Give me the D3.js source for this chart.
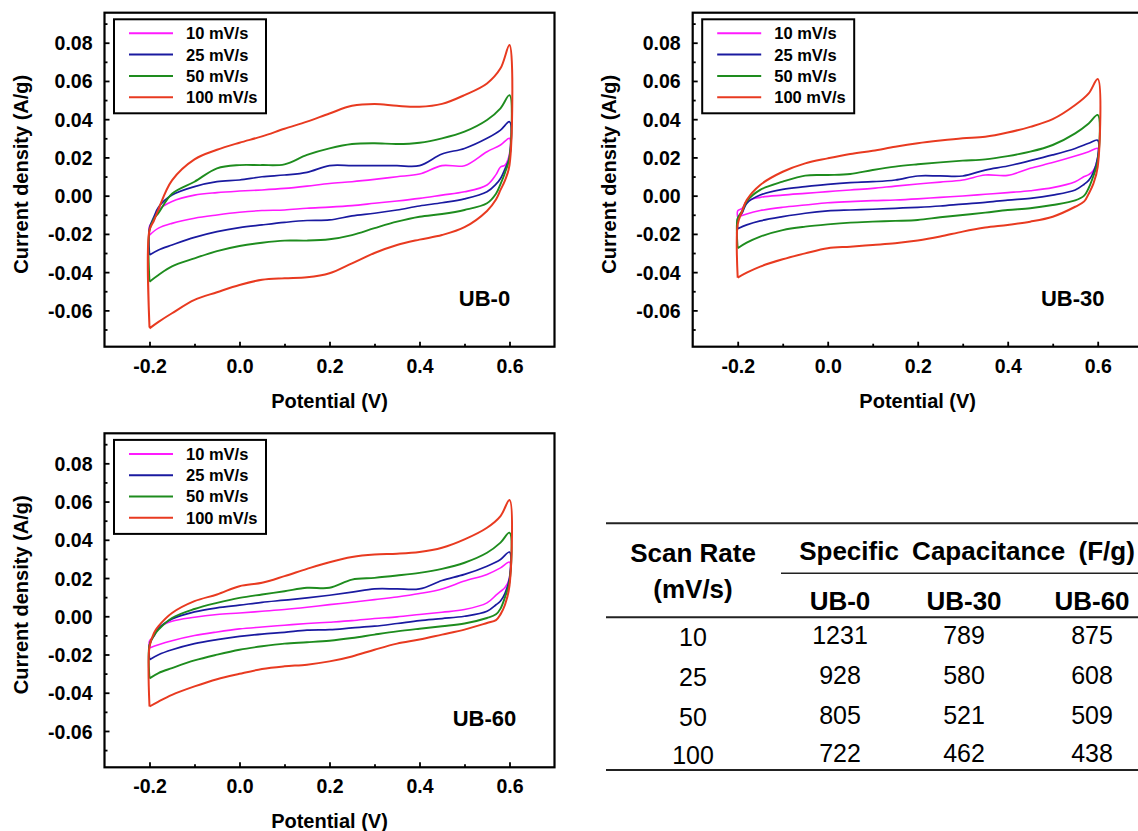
<!DOCTYPE html>
<html>
<head>
<meta charset="utf-8">
<script src="https://cdn.jsdelivr.net/npm/d3@7"></script>
<style>
  body { margin: 0; background: #fff; }
  text { font-family: "Liberation Sans", Arial, sans-serif; }
</style>
</head>
<body>
<div class="chart"></div>
<script>
// CV curves of UB-0 / UB-30 / UB-60 at four scan rates + capacitance table

var scanLabels = ["10 mV/s", "25 mV/s", "50 mV/s", "100 mV/s"];
var colors     = ["#ff1aff", "#1a1aa0", "#1e8c1e", "#e83a20"];
var widths     = [1.6, 1.7, 1.9, 2.0];

var xTicks  = [-0.2, 0.0, 0.2, 0.4, 0.6];
var xMinor  = [-0.1, 0.1, 0.3, 0.5];
var yTicks  = [-0.06, -0.04, -0.02, 0.00, 0.02, 0.04, 0.06, 0.08];
var yMinor  = [-0.07, -0.05, -0.03, -0.01, 0.01, 0.03, 0.05, 0.07, 0.09];

// potential grid (V) for the forward and reverse sweeps
var potFwd = [-0.2, -0.2, -0.19, -0.18, -0.15, -0.1, -0.05, 0.0, 0.05, 0.1, 0.15, 0.2, 0.25, 0.3, 0.35, 0.4, 0.45, 0.5, 0.55, 0.58, 0.6];
var potRev = [0.6, 0.59, 0.58, 0.57, 0.55, 0.5, 0.45, 0.4, 0.35, 0.3, 0.25, 0.2, 0.15, 0.1, 0.05, 0.0, -0.05, -0.1, -0.15, -0.18, -0.2];

// current density (A/g), UB-0
var ub0_10_fwd  = [-0.0206, -0.016, -0.0127, -0.0075, -0.003, 0.0003, 0.0016, 0.0024, 0.003, 0.0038, 0.005, 0.0064, 0.0073, 0.0085, 0.0099, 0.0113, 0.0157, 0.0157, 0.023, 0.0265, 0.030];
var ub0_10_rev  = [0.022, 0.016, 0.015, 0.011, 0.0056, 0.002, 0.0003, -0.0014, -0.0028, -0.004, -0.0052, -0.006, -0.0066, -0.0075, -0.0078, -0.0087, -0.0101, -0.0118, -0.0145, -0.017, -0.0206];
var ub0_25_fwd  = [-0.031, -0.017, -0.011, -0.006, 0.0003, 0.0047, 0.0073, 0.0082, 0.0099, 0.0108, 0.0122, 0.0157, 0.0157, 0.0157, 0.0157, 0.0157, 0.0218, 0.0247, 0.030, 0.0343, 0.0387];
var ub0_25_rev  = [0.02, 0.014, 0.009, 0.006, 0.002, -0.0017, -0.0037, -0.0054, -0.0075, -0.0092, -0.0106, -0.0127, -0.013, -0.014, -0.0153, -0.0167, -0.0188, -0.0218, -0.0258, -0.0284, -0.031];
var ub0_50_fwd  = [-0.045, -0.018, -0.012, -0.009, 0.001, 0.0073, 0.0143, 0.016, 0.016, 0.0164, 0.0213, 0.0247, 0.027, 0.0274, 0.027, 0.0277, 0.030, 0.0335, 0.0396, 0.0457, 0.0526];
var ub0_50_rev  = [0.02, 0.012, 0.006, 0.001, -0.004, -0.0075, -0.0096, -0.011, -0.0136, -0.017, -0.0206, -0.0228, -0.0235, -0.0235, -0.0246, -0.0263, -0.029, -0.0328, -0.037, -0.0415, -0.045];
var ub0_100_fwd = [-0.069, -0.018, -0.013, -0.007, 0.008, 0.019, 0.024, 0.0277, 0.031, 0.035, 0.0387, 0.043, 0.047, 0.048, 0.047, 0.0465, 0.048, 0.0526, 0.0587, 0.0666, 0.0788];
var ub0_100_rev = [0.016, 0.008, 0.003, -0.002, -0.008, -0.0165, -0.0206, -0.023, -0.0258, -0.030, -0.0354, -0.0406, -0.0427, -0.0432, -0.044, -0.0467, -0.0505, -0.0545, -0.0615, -0.066, -0.0694];

// UB-30
var ub30_10_fwd  = [-0.0113, -0.008, -0.0066, -0.003, -0.0009, 0.0003, 0.0012, 0.0021, 0.003, 0.0038, 0.005, 0.0061, 0.0071, 0.0082, 0.0108, 0.0106, 0.0143, 0.0173, 0.0207, 0.023, 0.0247];
var ub30_10_rev  = [0.02, 0.013, 0.011, 0.010, 0.0073, 0.0042, 0.0026, 0.0016, 0.0007, -0.0002, -0.0009, -0.0017, -0.0023, -0.0026, -0.0031, -0.0037, -0.0049, -0.0061, -0.0078, -0.0096, -0.0113];
var ub30_25_fwd  = [-0.0173, -0.012, -0.009, -0.004, 0.0003, 0.0033, 0.0047, 0.0059, 0.0068, 0.0073, 0.0082, 0.0103, 0.0103, 0.0103, 0.0134, 0.0155, 0.0183, 0.0213, 0.0247, 0.0274, 0.029];
var ub30_25_rev  = [0.02, 0.012, 0.008, 0.006, 0.003, 0.0003, -0.0014, -0.0023, -0.0035, -0.0044, -0.0054, -0.0061, -0.0066, -0.0071, -0.0075, -0.008, -0.0092, -0.011, -0.0132, -0.0153, -0.0173];
var ub30_50_fwd  = [-0.0275, -0.012, -0.008, -0.003, 0.003, 0.0073, 0.0105, 0.0108, 0.0113, 0.0134, 0.0152, 0.0164, 0.0174, 0.0183, 0.019, 0.0207, 0.023, 0.0265, 0.0326, 0.0378, 0.0422];
var ub30_50_rev  = [0.018, 0.01, 0.004, 0.0, -0.0025, -0.0049, -0.0066, -0.0075, -0.0089, -0.0101, -0.0113, -0.0127, -0.0132, -0.0136, -0.0141, -0.015, -0.0162, -0.018, -0.0214, -0.0246, -0.0275];
var ub30_100_fwd = [-0.0429, -0.015, -0.008, -0.0023, 0.0056, 0.0125, 0.0169, 0.0195, 0.0218, 0.0235, 0.0256, 0.0274, 0.0288, 0.030, 0.0308, 0.033, 0.036, 0.040, 0.0474, 0.0535, 0.061];
var ub30_100_rev = [0.015, 0.006, 0.001, -0.003, -0.0058, -0.011, -0.0136, -0.0153, -0.0167, -0.0188, -0.0214, -0.0235, -0.0249, -0.0258, -0.0267, -0.0275, -0.0302, -0.0333, -0.0371, -0.0403, -0.0429];

// UB-60
var ub60_10_fwd  = [-0.0166, -0.013, -0.0105, -0.0061, -0.0026, -0.0005, 0.0009, 0.0017, 0.0026, 0.0035, 0.0047, 0.0061, 0.0073, 0.0087, 0.0101, 0.0119, 0.0143, 0.0184, 0.0219, 0.0253, 0.0283];
var ub60_10_rev  = [0.02, 0.015, 0.013, 0.011, 0.007, 0.0035, 0.0021, 0.0009, -0.0003, -0.0012, -0.0023, -0.0031, -0.0038, -0.0047, -0.0056, -0.0066, -0.0082, -0.0101, -0.0128, -0.0149, -0.0166];
var ub60_25_fwd  = [-0.0227, -0.015, -0.010, -0.0063, -0.0014, 0.0023, 0.0044, 0.0058, 0.0073, 0.0084, 0.0096, 0.011, 0.0126, 0.0143, 0.0143, 0.0143, 0.0187, 0.0219, 0.0262, 0.0297, 0.0336];
var ub60_25_rev  = [0.02, 0.012, 0.008, 0.006, 0.0026, 0.0, -0.0012, -0.0023, -0.0038, -0.0052, -0.0061, -0.007, -0.0073, -0.0084, -0.0093, -0.0105, -0.0122, -0.0143, -0.0175, -0.0201, -0.0227];
var ub60_50_fwd  = [-0.0325, -0.015, -0.010, -0.007, -0.0009, 0.0038, 0.007, 0.0096, 0.0114, 0.0131, 0.0149, 0.0149, 0.0192, 0.0201, 0.0213, 0.0227, 0.0248, 0.028, 0.0332, 0.0385, 0.0437];
var ub60_50_rev  = [0.018, 0.01, 0.004, 0.001, -0.0009, -0.0038, -0.0052, -0.0065, -0.0079, -0.0096, -0.0114, -0.0128, -0.0136, -0.0143, -0.0157, -0.0175, -0.0201, -0.0231, -0.0271, -0.0297, -0.0325];
var ub60_100_fwd = [-0.0472, -0.016, -0.0087, -0.0052, 0.0017, 0.0079, 0.0114, 0.0157, 0.0175, 0.021, 0.0248, 0.0283, 0.031, 0.0323, 0.0327, 0.0336, 0.0358, 0.0402, 0.0463, 0.0524, 0.0608];
var ub60_100_rev = [0.016, 0.006, 0.001, -0.002, -0.0035, -0.007, -0.0096, -0.0122, -0.0143, -0.0175, -0.021, -0.0236, -0.0253, -0.0262, -0.0276, -0.0301, -0.0329, -0.0367, -0.0411, -0.0446, -0.0472];

// table
var sampleNames = ["UB-0", "UB-30", "UB-60"];
var scanRates   = ["10", "25", "50", "100"];
var capUB0  = [1231, 928, 805, 722];
var capUB30 = [789, 580, 521, 462];
var capUB60 = [875, 608, 509, 438];


var width  = 450,
    height = 334;

var svg = d3.select(".chart").append("svg")
    .attr("width", 1138)
    .attr("height", 831)
    .style("display", "block");

svg.append("rect").attr("width", 1138).attr("height", 831).attr("fill", "#fff");

var x = d3.scaleLinear().domain([-0.3, 0.7]).range([0, width]);
var y = d3.scaleLinear().domain([-0.079, 0.0957]).range([height, 0]);

// plain hyphen for negative tick labels, like the original figure
var fmt1 = d3.formatLocale({decimal: ".", thousands: ",", grouping: [3], currency: ["", ""], minus: "-"}).format(".1f");
var fmt2 = d3.formatLocale({decimal: ".", thousands: ",", grouping: [3], currency: ["", ""], minus: "-"}).format(".2f");

var line = d3.line()
    .x(function(d) { return x(d[0]); })
    .y(function(d) { return y(d[1]); })
    .curve(d3.curveCatmullRom.alpha(0.5));

function loop(fwd, rev) {
    var pts = potFwd.map(function(v, i) { return [v, fwd[i]]; });
    return pts.concat(potRev.map(function(v, i) { return [v, rev[i]]; }));
}

var panels = [
    { name: "UB-0",  left: 104.5, top: 12.7,
      curves: [[ub0_10_fwd, ub0_10_rev], [ub0_25_fwd, ub0_25_rev], [ub0_50_fwd, ub0_50_rev], [ub0_100_fwd, ub0_100_rev]] },
    { name: "UB-30", left: 692.7, top: 12.7,
      curves: [[ub30_10_fwd, ub30_10_rev], [ub30_25_fwd, ub30_25_rev], [ub30_50_fwd, ub30_50_rev], [ub30_100_fwd, ub30_100_rev]] },
    { name: "UB-60", left: 104.5, top: 433.3,
      curves: [[ub60_10_fwd, ub60_10_rev], [ub60_25_fwd, ub60_25_rev], [ub60_50_fwd, ub60_50_rev], [ub60_100_fwd, ub60_100_rev]] }
];

panels.forEach(drawPanel);
drawTable();


function drawPanel(p) {

    var g = svg.append("g")
        .attr("transform", "translate(" + p.left + "," + p.top + ")");

    // curves
    p.curves.forEach(function(c, i) {
        g.append("path")
            .datum(loop(c[0], c[1]))
            .attr("d", line)
            .attr("fill", "none")
            .attr("stroke", colors[i])
            .attr("stroke-width", widths[i])
            .attr("stroke-linejoin", "round");
    });

    // inward ticks on left and bottom
    var xAxis = d3.axisBottom(x).tickValues(xTicks).tickSizeInner(-5).tickSizeOuter(0).tickFormat(fmt1);
    var xAxisMinor = d3.axisBottom(x).tickValues(xMinor).tickSize(-3).tickFormat("");
    var yAxis = d3.axisLeft(y).tickValues(yTicks).tickSizeInner(-5).tickSizeOuter(0).tickFormat(fmt2);
    var yAxisMinor = d3.axisLeft(y).tickValues(yMinor).tickSize(-3).tickFormat("");

    var gx = g.append("g").attr("transform", "translate(0," + height + ")").call(xAxis);
    g.append("g").attr("transform", "translate(0," + height + ")").call(xAxisMinor);
    var gy = g.append("g").call(yAxis);
    g.append("g").call(yAxisMinor);

    g.selectAll(".domain").remove();
    g.selectAll(".tick line").attr("stroke", "#000").attr("stroke-width", 1.8);

    gx.selectAll(".tick text")
        .attr("y", 26).attr("dy", 0)
        .style("font-size", "19.5px").style("font-weight", "bold")
        .style("font-family", "'Liberation Sans', Arial, sans-serif")
        .attr("fill", "#000");
    gy.selectAll(".tick text")
        .attr("x", -12).attr("dy", "0.36em")
        .style("font-size", "19.5px").style("font-weight", "bold")
        .style("font-family", "'Liberation Sans', Arial, sans-serif")
        .attr("fill", "#000");

    // frame
    g.append("rect")
        .attr("width", width)
        .attr("height", height)
        .attr("fill", "none")
        .attr("stroke", "#000")
        .attr("stroke-width", 2.2);

    // axis titles
    g.append("text")
        .attr("x", width / 2)
        .attr("y", height + 61)
        .attr("text-anchor", "middle")
        .style("font-size", "20px").style("font-weight", "bold")
        .text("Potential (V)");

    g.append("text")
        .attr("transform", "translate(-77," + 161.5 + ") rotate(-90)")
        .attr("text-anchor", "middle")
        .style("font-size", "20px").style("font-weight", "bold")
        .text("Current density (A/g)");

    // sample label
    g.append("text")
        .attr("x", 380)
        .attr("y", 293)
        .attr("text-anchor", "middle")
        .style("font-size", "22px").style("font-weight", "bold")
        .text(p.name);

    // legend
    var lg = g.append("g").attr("transform", "translate(9.5,6.6)");
    lg.append("rect")
        .attr("width", 152)
        .attr("height", 94)
        .attr("fill", "#fff")
        .attr("stroke", "#000")
        .attr("stroke-width", 2);

    scanLabels.forEach(function(label, i) {
        var ly = 14 + i * 21.3;
        lg.append("line")
            .attr("x1", 15).attr("x2", 59)
            .attr("y1", ly).attr("y2", ly)
            .attr("stroke", colors[i])
            .attr("stroke-width", 2);
        lg.append("text")
            .attr("x", 72)
            .attr("y", ly + 6)
            .style("font-size", "16.5px").style("font-weight", "bold")
            .text(label);
    });
}


function drawTable() {

    var t = svg.append("g");
    var ruleLeft = 606, ruleRight = 1138;
    var colX = [693, 840, 964, 1092];
    var rowY = [644, 684, 724, 762];

    function rule(x1, yy, w) {
        t.append("line")
            .attr("x1", x1).attr("x2", ruleRight)
            .attr("y1", yy).attr("y2", yy)
            .attr("stroke", "#222")
            .attr("stroke-width", w);
    }

    rule(ruleLeft, 523.3, 2);
    rule(781, 573.3, 1.6);
    rule(ruleLeft, 617.3, 2);
    rule(ruleLeft, 770, 2);

    t.append("text")
        .attr("x", colX[0]).attr("y", 562)
        .attr("text-anchor", "middle")
        .style("font-size", "26px").style("font-weight", "bold")
        .text("Scan Rate");
    t.append("text")
        .attr("x", colX[0]).attr("y", 598)
        .attr("text-anchor", "middle")
        .style("font-size", "26px").style("font-weight", "bold")
        .text("(mV/s)");
    t.append("text")
        .attr("x", 967).attr("y", 560)
        .attr("text-anchor", "middle")
        .style("font-size", "26px").style("font-weight", "bold")
        .style("word-spacing", "6px")
        .text("Specific Capacitance (F/g)");

    sampleNames.forEach(function(s, j) {
        t.append("text")
            .attr("x", colX[j + 1]).attr("y", 610)
            .attr("text-anchor", "middle")
            .style("font-size", "26px").style("font-weight", "bold")
            .text(s);
    });

    var cols = [capUB0, capUB30, capUB60];
    scanRates.forEach(function(r, i) {
        t.append("text")
            .attr("x", colX[0]).attr("y", rowY[i] + 2)
            .attr("text-anchor", "middle")
            .style("font-size", "25px")
            .text(r);
        cols.forEach(function(col, j) {
            t.append("text")
                .attr("x", colX[j + 1]).attr("y", rowY[i])
                .attr("text-anchor", "middle")
                .style("font-size", "25px")
                .text(col[i]);
        });
    });
}
</script>
</body>
</html>
